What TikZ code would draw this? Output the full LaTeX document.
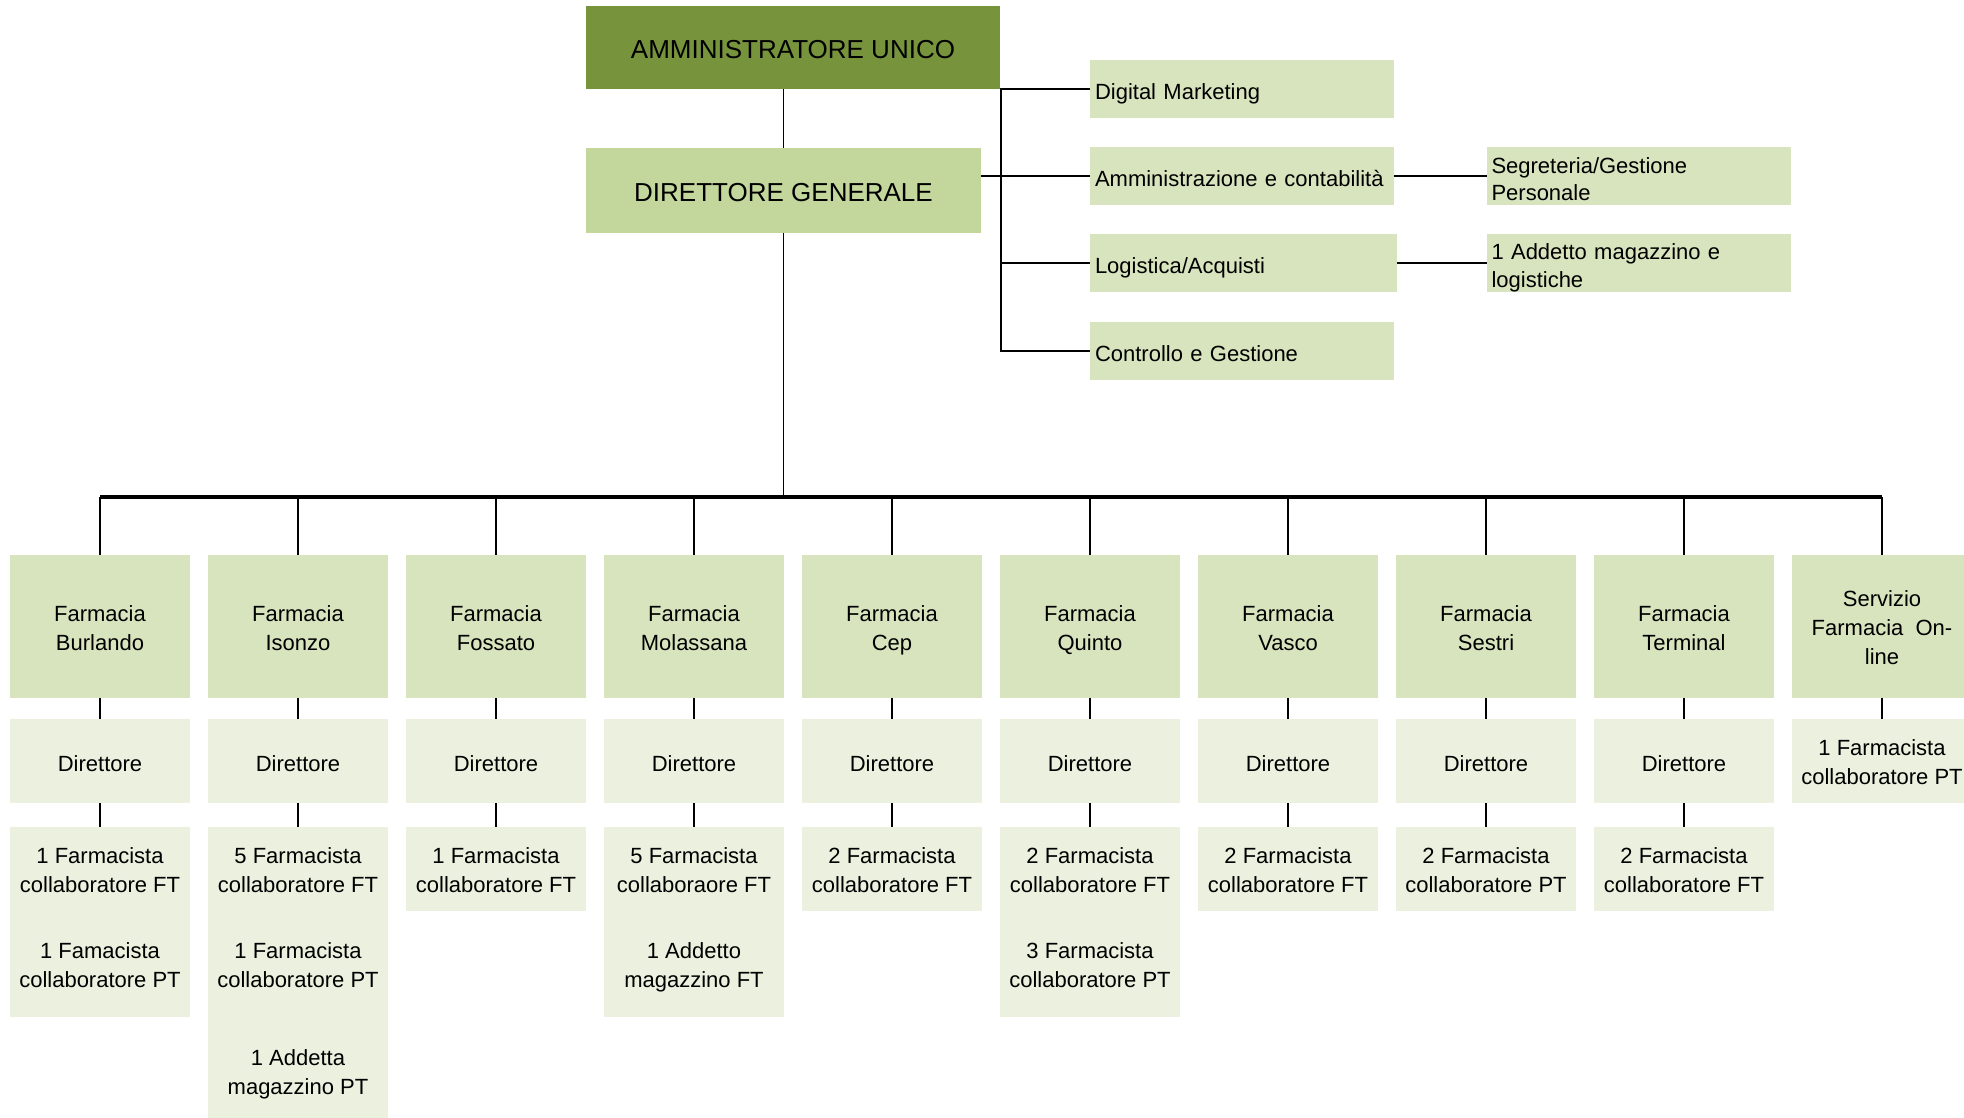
\documentclass[tikz,border=0pt]{standalone}
\usepackage{fontspec}
\setmainfont{Liberation Sans}
\definecolor{cDark}{HTML}{77933C}
\definecolor{cDG}{HTML}{C3D69B}
\definecolor{cMid}{HTML}{D7E4BD}
\definecolor{cLight}{HTML}{EBF1DE}
\newcommand{\fstrut}{\rule{0pt}{11.6pt}}
\begin{document}
\begin{tikzpicture}[x=0.5pt,y=-0.5pt,
  box/.style={inner sep=0pt, outer sep=0pt, align=center, font=\fontsize{11}{14.5}\selectfont,
    execute at begin node={\rule{0pt}{12.5pt}}, execute at end node={\rule[-2.4pt]{0pt}{0pt}}},
  farm/.style={box, fill=cMid, minimum width=90pt, minimum height=71.5pt},
  dirb/.style={box, fill=cLight, minimum width=90pt, minimum height=42pt},
  rowc/.style={box, fill=cLight, minimum width=90pt, minimum height=42pt},
  rowd/.style={box, fill=cLight, minimum width=90pt, minimum height=53pt},
  rowe/.style={box, fill=cLight, minimum width=90pt, minimum height=54pt},
  side/.style={inner xsep=2.5pt, inner ysep=0pt, outer sep=0pt, fill=cMid, text width=147pt, align=left, minimum height=29pt, font=\fontsize{11}{13.8}\selectfont,
    execute at begin node={\rule{0pt}{12.5pt}}, execute at end node={\rule[-1.5pt]{0pt}{0pt}}},
  big/.style={inner sep=0pt, outer sep=0pt, align=center, font=\fontsize{13}{15}\selectfont,
    execute at begin node={\rule{0pt}{11pt}}},
  trunk/.style={line width=0.8pt},
  busline/.style={line width=1.8pt},
  link/.style={line width=1pt}
]
\useasboundingbox (0,0) rectangle (1964,1118);

% top
\node[big, fill=cDark, minimum width=207pt, minimum height=41.5pt] (amm) at (793,47.5) {AMMINISTRATORE UNICO};
\node[big, fill=cDG, minimum width=197.5pt, minimum height=42.5pt] (dg) at (783.5,190.5) {DIRETTORE GENERALE};

\node[side] (dm)  at (1242,89.5) {Digital Marketing};
\node[side] (adm) at (1242,176) {Amministrazione e contabilità};
\node[side, text width=148.5pt] (lgs) at (1243.5,263) {Logistica/Acquisti};
\node[side] (ctl) at (1242,350.5) {Controllo e Gestione};
\node[side] (seg) at (1638.5,176) {Segreteria/Gestione\\Personale};
\node[side] (add) at (1638.5,263) {1 Addetto magazzino e\\logistiche};

\coordinate (brk) at (1001,0);
\coordinate (bus) at (784,497);

\draw[trunk] (dg.north) -- (dg.north |- amm.south);
\draw[trunk] (dg.south) -- (dg.south |- bus);
\draw[link] (dm.west) -- (dm.west -| brk) -- (ctl.west -| brk) -- (ctl.west);
\draw[link] (lgs.west -| brk) -- (lgs.west);
\draw[link] (dg.east |- adm.west) -- (adm.west);
\draw[link] (adm.east) -- (seg.west);
\draw[link] (lgs.east) -- (add.west);

% pharmacies
\node[farm] (f1)  at (100,626.5)  {\fstrut Farmacia\\Burlando};
\node[farm] (f2)  at (298,626.5)  {\fstrut Farmacia\\Isonzo};
\node[farm] (f3)  at (496,626.5)  {\fstrut Farmacia\\Fossato};
\node[farm] (f4)  at (694,626.5)  {\fstrut Farmacia\\Molassana};
\node[farm] (f5)  at (892,626.5)  {\fstrut Farmacia\\Cep};
\node[farm] (f6)  at (1090,626.5) {\fstrut Farmacia\\Quinto};
\node[farm] (f7)  at (1288,626.5) {\fstrut Farmacia\\Vasco};
\node[farm] (f8)  at (1486,626.5) {\fstrut Farmacia\\Sestri};
\node[farm] (f9)  at (1684,626.5) {\fstrut Farmacia\\Terminal};
\node[farm] (f10) at (1882,626.5) {\fstrut Servizio\\Farmacia\ \ On-\\line};

\node[dirb] (d1)  at (100,761)  {Direttore};
\node[dirb] (d2)  at (298,761)  {Direttore};
\node[dirb] (d3)  at (496,761)  {Direttore};
\node[dirb] (d4)  at (694,761)  {Direttore};
\node[dirb] (d5)  at (892,761)  {Direttore};
\node[dirb] (d6)  at (1090,761) {Direttore};
\node[dirb] (d7)  at (1288,761) {Direttore};
\node[dirb] (d8)  at (1486,761) {Direttore};
\node[dirb] (d9)  at (1684,761) {Direttore};
\node[dirb] (d10) at (1882,761) {\fstrut 1 Farmacista\\collaboratore PT};

\node[rowc] (r1) at (100,869)  {\fstrut 1 Farmacista\\collaboratore FT};
\node[rowc] (r2) at (298,869)  {\fstrut 5 Farmacista\\collaboratore FT};
\node[rowc] (r3) at (496,869)  {\fstrut 1 Farmacista\\collaboratore FT};
\node[rowc] (r4) at (694,869)  {\fstrut 5 Farmacista\\collaboraore FT};
\node[rowc] (r5) at (892,869)  {\fstrut 2 Farmacista\\collaboratore FT};
\node[rowc] (r6) at (1090,869) {\fstrut 2 Farmacista\\collaboratore FT};
\node[rowc] (r7) at (1288,869) {\fstrut 2 Farmacista\\collaboratore FT};
\node[rowc] (r8) at (1486,869) {\fstrut 2 Farmacista\\collaboratore PT};
\node[rowc] (r9) at (1684,869) {\fstrut 2 Farmacista\\collaboratore FT};

\node[rowd] (s1) at (100,964)  {\fstrut 1 Famacista\\collaboratore PT};
\node[rowd] (s2) at (298,964)  {\fstrut 1 Farmacista\\collaboratore PT};
\node[rowd] (s4) at (694,964)  {\fstrut 1 Addetto\\magazzino FT};
\node[rowd] (s6) at (1090,964) {\fstrut 3 Farmacista\\collaboratore PT};
\node[rowe] (t2) at (298,1071) {\fstrut 1 Addetta\\magazzino PT};

\draw[busline] (f1.north |- bus) -- (f10.north |- bus);
\foreach \i in {1,...,10}{
  \draw[trunk] (f\i.north |- bus) -- (f\i.north);
  \draw[link] (f\i.south) -- (d\i.north);
}
\foreach \i in {1,...,9}{
  \draw[link] (d\i.south) -- (r\i.north);
}
\end{tikzpicture}
\end{document}
